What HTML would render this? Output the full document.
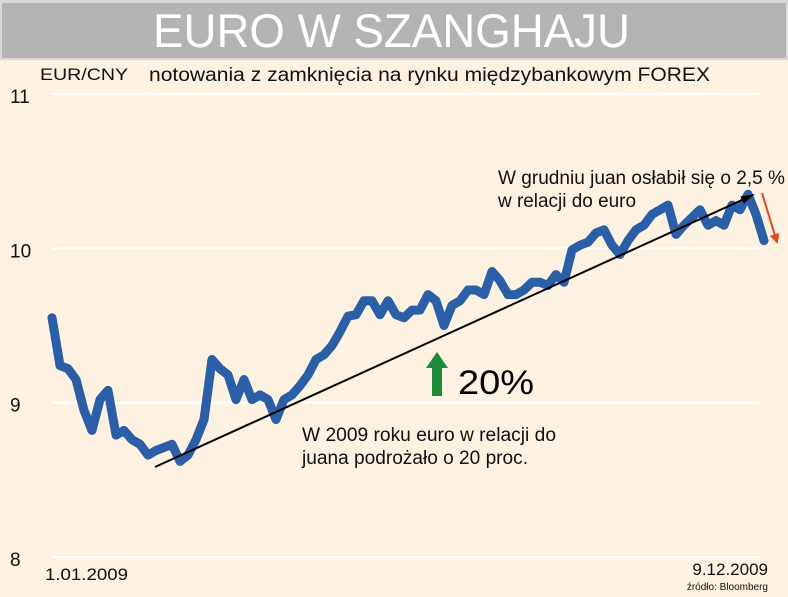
<!DOCTYPE html>
<html><head><meta charset="utf-8"><style>
body{margin:0;background:#fff;}
svg{display:block;font-family:"Liberation Sans",sans-serif;}
</style></head><body>
<svg width="788" height="597">
<rect x="0" y="0" width="788" height="597" fill="#fdf1e1"/>
<rect x="0" y="0" width="788" height="60" fill="#d9d9d9"/>
<rect x="2" y="3" width="784" height="55" fill="#b3b3b3"/>
<text x="153" y="47" font-size="47" fill="#fff" textLength="477" lengthAdjust="spacingAndGlyphs">EURO W SZANGHAJU</text>
<text x="40" y="80" font-size="17" fill="#111" textLength="88" lengthAdjust="spacingAndGlyphs">EUR/CNY</text>
<text x="149" y="81" font-size="19" fill="#111" textLength="561" lengthAdjust="spacingAndGlyphs">notowania z zamknięcia na rynku międzybankowym FOREX</text>
<g id="grid"></g>
<g id="ylabels"></g>
<polyline id="series" fill="none" stroke="#2a5fa8" stroke-width="9" stroke-linejoin="round" stroke-linecap="round"/>
<defs>
<marker id="ah" markerWidth="14" markerHeight="8" refX="12" refY="4" orient="auto" markerUnits="userSpaceOnUse"><path d="M0,0 L14,4 L0,8z" fill="#000"/></marker>
<marker id="ahr" markerWidth="10" markerHeight="10" refX="8" refY="5" orient="auto" markerUnits="userSpaceOnUse"><path d="M0,0 L10,5 L0,10z" fill="#e04a1a"/></marker>
</defs>
<line x1="155" y1="467" x2="753" y2="195" stroke="#000" stroke-width="2" marker-end="url(#ah)"/>
<line x1="762" y1="193" x2="777" y2="242" stroke="#e04a1a" stroke-width="2" marker-end="url(#ahr)"/>
<path d="M437,352 L448,368 L442,368 L442,396 L432,396 L432,368 L426,368 Z" fill="#1f8a3a"/>
<text x="458" y="394" font-size="34" fill="#000" textLength="76" lengthAdjust="spacingAndGlyphs">20%</text>
<text x="302" y="441" font-size="19" fill="#111" textLength="254" lengthAdjust="spacingAndGlyphs">W 2009 roku euro w relacji do</text>
<text x="302" y="464" font-size="19" fill="#111" textLength="226" lengthAdjust="spacingAndGlyphs">juana podrożało o 20 proc.</text>
<text x="498" y="184" font-size="19" fill="#111" textLength="287" lengthAdjust="spacingAndGlyphs">W grudniu juan osłabił się o 2,5 %</text>
<text x="498" y="207" font-size="19" fill="#111" textLength="138" lengthAdjust="spacingAndGlyphs">w relacji do euro</text>
<text x="45" y="580" font-size="17" fill="#111" textLength="83" lengthAdjust="spacingAndGlyphs">1.01.2009</text>
<text x="768" y="575" font-size="17" fill="#111" text-anchor="end">9.12.2009</text>
<text x="768" y="590" font-size="10" fill="#111" text-anchor="end">źródło: Bloomberg</text>
</svg>
<script>
const yTicks=[8,9,10,11];
const tickLabels=["8","9","10","11"];
const rates=[9.55,9.24,9.22,9.15,8.95,8.82,9.02,9.08,8.79,8.82,8.76,8.73,8.66,8.69,8.71,8.73,8.62,8.66,8.76,8.89,
9.28,9.22,9.18,9.02,9.15,9.02,9.05,9.02,8.89,9.02,9.05,9.11,9.18,9.28,9.31,9.37,9.46,9.56,9.57,9.66,
9.66,9.57,9.66,9.57,9.55,9.60,9.60,9.70,9.66,9.50,9.63,9.66,9.73,9.73,9.70,9.85,9.79,9.70,9.70,9.73,
9.78,9.78,9.76,9.83,9.78,9.99,10.02,10.04,10.10,10.12,10.02,9.96,10.05,10.12,10.15,10.22,10.25,10.28,10.09,10.15,
10.20,10.25,10.15,10.18,10.15,10.28,10.25,10.35,10.22,10.05];
const yScale=v=>557-(v-8)*(557-94)/3;
const xScale=i=>52+i*(712/(rates.length-1));
const ns="http://www.w3.org/2000/svg";
const grid=document.getElementById('grid'),yl=document.getElementById('ylabels');
yTicks.forEach((t,k)=>{
 const l=document.createElementNS(ns,'line');
 l.setAttribute('x1',52);l.setAttribute('x2',760);
 l.setAttribute('y1',yScale(t));l.setAttribute('y2',yScale(t));
 l.setAttribute('stroke','#fff');l.setAttribute('stroke-width','2');
 
 
 grid.appendChild(l);
 const tx=document.createElementNS(ns,'text');
 tx.setAttribute('x',10);tx.setAttribute('y',yScale(t)+9);
 tx.setAttribute('font-size','19');tx.setAttribute('fill','#111');
 tx.textContent=tickLabels[k];
 
 
 yl.appendChild(tx);
});
document.getElementById('series').setAttribute('points',rates.map((v,i)=>xScale(i).toFixed(1)+','+yScale(v).toFixed(1)).join(' '));
</script>
</body></html>
